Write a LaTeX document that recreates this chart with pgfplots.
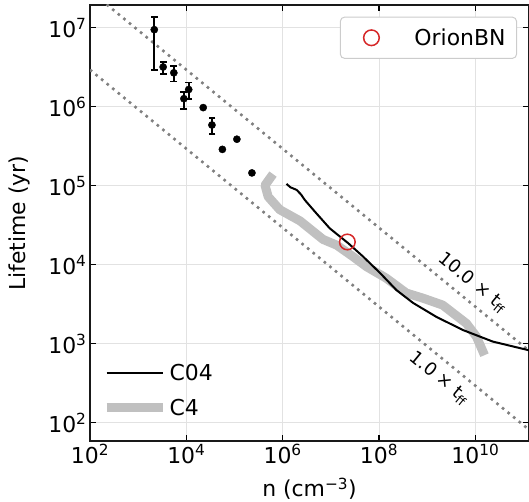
\documentclass[border=0pt]{standalone}
\usepackage{fontspec}
\setmainfont{DejaVu Sans}
\usepackage{pgfplots}
\pgfplotsset{compat=1.18}
\definecolor{tabred}{HTML}{D62728}
\definecolor{gridgray}{HTML}{E2E2E2}
\definecolor{silverc}{HTML}{C0C0C0}
\definecolor{dotgray}{HTML}{808080}
\begin{document}
\begin{tikzpicture}
\begin{axis}[name=main,
  width=439bp, height=436bp, scale only axis,
  xmode=log, ymode=log,
  xmin=1e2, xmax=1.3e11, ymin=59, ymax=1.95e7,
  axis line style={black!90, line width=1.2bp},
  xtick={1e2,1e4,1e6,1e8,1e10},
  ytick={1e2,1e3,1e4,1e5,1e6,1e7},
  xminorticks=false, yminorticks=false,
  tick align=inside,
  major tick length=6bp,
  every tick/.style={black, line width=1.1bp},
  grid=major,
  major grid style={gridgray, line width=0.9bp},
  xticklabel={\pgfmathparse{int(round(\tick/2.302585093))}10\textsuperscript{\pgfmathresult}},
  yticklabel={\pgfmathparse{int(round(\tick/2.302585093))}10\textsuperscript{\pgfmathresult}},
  tick label style={font=\fontsize{22}{26}\selectfont},
  xlabel={n (cm\textsuperscript{−3})},
  ylabel={Lifetime (yr)},
  every axis x label/.style={at={(axis description cs:0.5,0)}, yshift=-48bp, anchor=center, font=\fontsize{22}{26}\selectfont},
  every axis y label/.style={at={(axis description cs:0,0.5)}, xshift=-71bp, rotate=90, anchor=center, font=\fontsize{22}{26}\selectfont},
  legend style={at={(rel axis cs:0,0)}, anchor=south west, xshift=9bp, yshift=20bp,
    draw=none, fill=none, font=\fontsize{22}{26}\selectfont, row sep=13bp},
  legend cell align=left,
  legend image code/.code={\draw[#1] (0bp,0bp) -- (56bp,0bp); \path[draw=none,fill=none] (0bp,0bp) -- (61bp,0bp);},
]
% free-fall time lines
\addplot[dotgray, line width=2.6bp, dash pattern=on 2.6bp off 4.6bp, forget plot]
  coordinates {(1e2,2.95e7) (1.3e11,8.2e2)};
\addplot[dotgray, line width=2.6bp, dash pattern=on 2.6bp off 4.6bp, forget plot]
  coordinates {(1e2,2.95e6) (1.3e11,8.2e1)};
\node[rotate=-39.5, font=\fontsize{18}{20}\selectfont] at (axis cs:8.9e9,5.9e3) {10.0 × t\textsubscript{ff}};
\node[rotate=-39.5, font=\fontsize{18}{20}\selectfont] at (axis cs:1.8e9,3.7e2) {1.0 × t\textsubscript{ff}};
% error bars
\addplot[black, line width=1.8bp, mark=-, mark size=3.4bp, forget plot] coordinates {(2.16e3,2.9e6) (2.16e3,1.36e7)};
\addplot[black, line width=1.8bp, mark=-, mark size=3.4bp, forget plot] coordinates {(3.3e3,2.6e6) (3.3e3,3.7e6)};
\addplot[black, line width=1.8bp, mark=-, mark size=3.4bp, forget plot] coordinates {(5.5e3,2.1e6) (5.5e3,3.3e6)};
\addplot[black, line width=1.8bp, mark=-, mark size=3.4bp, forget plot] coordinates {(1.12e4,1.26e6) (1.12e4,2.04e6)};
\addplot[black, line width=1.8bp, mark=-, mark size=3.4bp, forget plot] coordinates {(8.9e3,9.5e5) (8.9e3,1.55e6)};
\addplot[black, line width=1.8bp, mark=-, mark size=3.4bp, forget plot] coordinates {(3.4e4,4.5e5) (3.4e4,7.2e5)};
% observed points
\addplot[only marks, mark=*, mark size=3.6bp, black, forget plot] coordinates {
  (2.16e3,9.5e6) (3.3e3,3.2e6) (5.5e3,2.7e6) (1.12e4,1.66e6) (8.9e3,1.27e6)
  (2.24e4,9.8e5) (3.4e4,5.9e5) (1.12e5,3.9e5) (5.6e4,2.9e5) (2.3e5,1.46e5)};
% C4 (gray thick)
\addplot[silverc, line width=9bp, line join=round, forget plot] coordinates {
  (6.3e5,1.41e5) (4.3e5,1.02e5) (5.0e5,7.3e4) (8.7e5,5.0e4) (2.3e6,3.6e4)
  (6.9e6,2.1e4) (1.32e7,1.78e4) (2.9e7,1.27e4) (5.5e7,9.5e3) (1.41e8,6.8e3)
  (3.7e8,4.4e3) (8.1e8,3.8e3) (2.1e9,3.1e3) (6.5e9,1.82e3) (1.05e10,1.24e3)
  (1.55e10,7.2e2)};
% C04 (black)
\addplot[black, line width=2bp, line join=round, forget plot] coordinates {
  (1.2e6,1.06e5) (1.45e6,9.6e4) (1.95e6,8.9e4) (2.4e6,7.8e4) (2.9e6,6.6e4)
  (5.0e6,4.5e4) (9.5e6,2.9e4) (2.3e7,1.88e4) (4.7e7,1.27e4) (1.05e8,7.9e3)
  (2.3e8,4.8e3) (5.1e8,3.3e3) (1.55e9,2.2e3) (5.5e9,1.5e3) (2.3e10,1.07e3)
  (1.3e11,8.3e2)};
\addlegendimage{black, line width=2bp}
\addlegendentry{C04}
\addlegendimage{silverc, line width=9bp}
\addlegendentry{C4}
\end{axis}
\begin{axis}[
  width=439bp, height=436bp, scale only axis,
  xmode=log, ymode=log,
  xmin=1e2, xmax=1.3e11, ymin=59, ymax=1.95e7,
  hide axis,
  legend style={at={(rel axis cs:1,1)}, anchor=north east, xshift=-12bp, yshift=-11.7bp,
    draw=black!20, line width=1bp, rounded corners=4bp, fill=white,
    inner xsep=9bp, inner ysep=9.5bp, font=\fontsize{22}{26}\selectfont},
  legend image code/.code={\path[draw=none,fill=none] (0bp,-1bp) rectangle (63bp,1bp); \draw[#1, only marks] plot coordinates {(22bp,0bp)};},
]
\addplot[only marks, mark=o, mark size=7.8bp, tabred, line width=1.5bp] coordinates {(2.2e7,1.95e4)};
\addlegendentry{OrionBN}
\end{axis}
\pgfresetboundingbox
\path[use as bounding box] ([xshift=-90bp,yshift=-61bp]main.south west) rectangle ([yshift=5bp]main.north east);
\end{tikzpicture}
\end{document}
